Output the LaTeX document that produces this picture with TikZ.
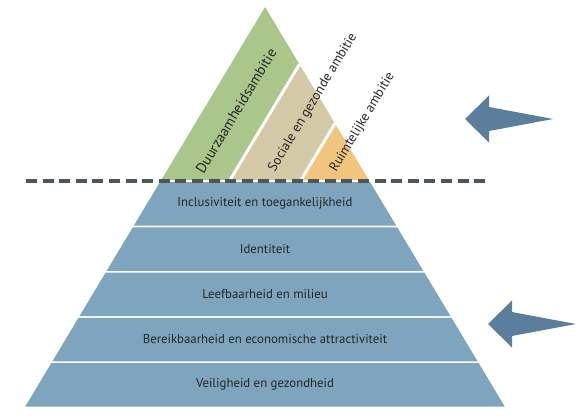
\documentclass[tikz,border=0pt]{standalone}
\usepackage{fontspec}
\setmainfont{PT Sans}
\usetikzlibrary{positioning}

\definecolor{ambgreen}{HTML}{AAC68B}
\definecolor{ambtan}{HTML}{D4C9A6}
\definecolor{amborange}{HTML}{F2C57E}
\definecolor{levelblue}{HTML}{7EA5BD}
\definecolor{arrowblue}{HTML}{5B7E9C}
\definecolor{cutgray}{HTML}{4D5856}
\definecolor{textgray}{HTML}{262626}

\begin{document}
\begin{tikzpicture}[
      x=1pt, y=-1pt,
      level/.style={fill=levelblue},
      lvltext/.style={text=textgray, font=\fontsize{12.8}{15}\selectfont},
      ambtext/.style={text=textgray, rotate=59, font=\fontsize{13.5}{16}\selectfont},
      divider/.style={draw=white, line width=3pt},
      cutline/.style={draw=cutgray, line width=3.3pt, dash pattern=on 11pt off 5.6pt},
      arrowfill/.style={fill=arrowblue}
    ]
      \useasboundingbox (0,0) rectangle (579,420);

      % top triangle with the three ambitions
      \coordinate (apex) at (265,7);
      \coordinate (bl) at (161.2,180);
      \coordinate (br) at (368.8,180);
      \coordinate (d1b) at (230,180);
      \coordinate (d1t) at (299.4,64.3);
      \coordinate (d2b) at (301,180);
      \coordinate (d2t) at (334.9,123.5);
      \fill[ambgreen] (bl) -- (apex) -- (d1t) -- (d1b) -- cycle;
      \fill[ambtan] (d1b) -- (d1t) -- (d2t) -- (d2b) -- cycle;
      \fill[amborange] (d2b) -- (d2t) -- (br) -- cycle;
      \draw[divider] (d1b) -- (d1t);
      \draw[divider] (d2b) -- (d2t);

      \node[ambtext, font=\fontsize{14.5}{17}\selectfont] (duurzaam) at (236,111) {Duurzaamheidsambitie};
      \node[ambtext] (sociaal) at (313,102.5) {Sociale en gezonde ambitie};
      \node[ambtext] (ruimte) at (362.5,122.5) {Ruimtelijke ambitie};

      % the five levels
      \foreach \name/\txt [count=\i from 0] in {
          incl/Inclusiviteit en toegankelijkheid,
          iden/Identiteit,
          leef/Leefbaarheid en milieu,
          bereik/Bereikbaarheid en economische attractiviteit,
          veilig/Veiligheid en gezondheid} {
        \pgfmathsetmacro\yt{182+45.25*\i}
        \pgfmathsetmacro\yb{\yt+43.5}
        \pgfmathsetmacro\wt{0.6*(\yt-7)}
        \pgfmathsetmacro\wb{0.6*(\yb-7)}
        \fill[level] (265-\wt,\yt) -- (265+\wt,\yt) -- (265+\wb,\yb) -- (265-\wb,\yb) -- cycle;
        \node[lvltext] (\name) at (265,\yt+21.5) {\txt};
      }

      \draw[cutline] (26,181) -- (486,181);

      % arrows
      \foreach \tx/\ty in {465/119, 488/324} {
        \fill[arrowfill] (\tx,\ty) -- ++(24,-23.5) -- ++(0,11.5) -- ++(64,12) -- ++(-64,12) -- ++(0,11.5) -- cycle;
      }
    \end{tikzpicture}
\end{document}
